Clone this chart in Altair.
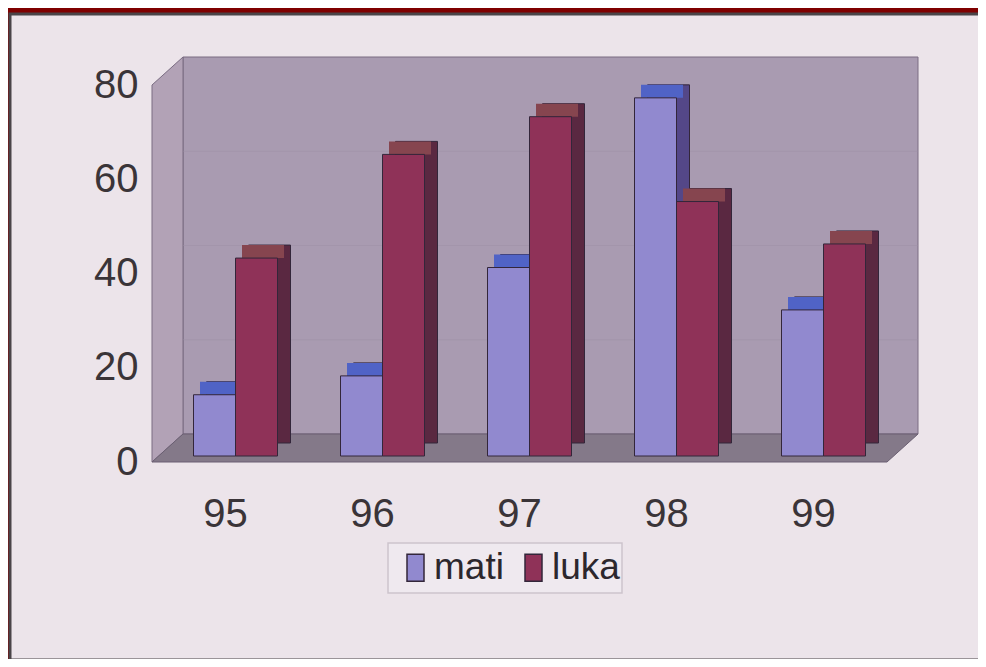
import altair as alt
import pandas as pd

# ---- data ----
years = ["95", "96", "97", "98", "99"]
mati = [13, 17, 40, 76, 31]
luka = [42, 64, 72, 54, 45]
series_names = ["mati", "luka"]
y_ticks = [0, 20, 40, 60, 80]
grid_ticks = [20, 40, 60]

df = pd.DataFrame({
    "year": years * 2,
    "series": ["mati"] * len(years) + ["luka"] * len(years),
    "value": mati + luka,
})
grid_df = pd.DataFrame({"v": grid_ticks})
one_df = pd.DataFrame({"k": [0]})

# ---- layout / style ----
W, H = 735, 377
BW = 42            # bar front width
BX, BY = 10, -6    # bars sit a bit behind the front plane
DX, DY = 13, -13   # bar depth
WX, WY = 31, -28   # wall depth
FONT = "Liberation Sans"
TXT = "#3a3438"

front_col = {"mati": "#9189cf", "luka": "#8f3258"}
side_col = {"mati": "#544788", "luka": "#5a2841"}
top_col = {"mati": "#5063c6", "luka": "#86454f"}
EDGE = "#33263a"

x_enc = alt.X("year:N", sort=years,
              scale=alt.Scale(paddingInner=0, paddingOuter=0),
              axis=alt.Axis(title=None, domain=False, ticks=False, grid=False,
                            labelAngle=0, labelFont=FONT, labelFontSize=40,
                            labelColor=TXT, labelPadding=32, zindex=2))
y_scale = alt.Scale(domain=[0, 80], nice=False, zero=True)
y_axis = alt.Axis(title=None, domain=False, ticks=False, grid=False,
                  values=y_ticks, labelFont=FONT, labelFontSize=40,
                  labelColor=TXT, labelPadding=14, labelBaseline="middle", zindex=2)


def feature(pts):
    return {"type": "Feature", "properties": {},
            "geometry": {"type": "Polygon", "coordinates": [pts + [pts[0]]]}}


proj = dict(type="identity", scale=1, translate=[0, 0])

back_wall = feature([[WX, WY], [W + WX, WY], [W + WX, H + WY], [WX, H + WY]])
left_wall = feature([[0, 0], [WX, WY], [WX, H + WY], [0, H]])
floor = feature([[0, H], [WX, H + WY], [W + WX, H + WY], [W, H]])

panel = alt.Chart(one_df).mark_rect(fill="#ece4ea", stroke="#4a4448", strokeWidth=3,
                                    clip=False).encode(
    x=alt.value(-142), x2=alt.value(860), y=alt.value(-71), y2=alt.value(575))

legend_box = alt.Chart(one_df).mark_rect(fill="#efe9ef", stroke="#cdc4cd", strokeWidth=1.5,
                                         clip=False).encode(
    x=alt.value(236), x2=alt.value(470), y=alt.value(458), y2=alt.value(508))

walls = [
    alt.Chart(alt.Data(values=[back_wall])).mark_geoshape(
        fill="#a99bb1", stroke="#7a6c82", strokeWidth=1, clip=False).project(**proj),
    alt.Chart(alt.Data(values=[left_wall])).mark_geoshape(
        fill="#b2a2b6", stroke="#7a6c82", strokeWidth=1, clip=False).project(**proj),
    alt.Chart(alt.Data(values=[floor])).mark_geoshape(
        fill="#847989", stroke="#6a5f72", strokeWidth=1, clip=False).project(**proj),
]

grid = alt.Chart(grid_df).mark_rule(color="#9b8da4", strokeWidth=1, opacity=0.45,
                                     yOffset=WY).encode(
    y=alt.Y("v:Q", scale=y_scale, axis=y_axis),
    x=alt.value(WX), x2=alt.value(W + WX))

bars = []
for s, sx in (("mati", -BW / 2), ("luka", BW / 2)):
    base = alt.Chart(df).transform_filter(alt.datum.series == s)
    side = base.mark_bar(width=BW, xOffset=sx + BX + DX, yOffset=BY + DY, y2Offset=BY + DY,
                         color=side_col[s], stroke=EDGE, strokeWidth=1).encode(
        x=x_enc, y=alt.Y("value:Q", scale=y_scale, axis=y_axis), y2=alt.datum(0))
    top = base.mark_bar(width=BW, xOffset=sx + BX + DX / 2, yOffset=BY + DY, y2Offset=BY,
                        color=top_col[s], strokeWidth=0).encode(
        x=x_enc, y=alt.Y("value:Q", scale=y_scale, axis=y_axis), y2="value:Q")
    front = base.mark_bar(width=BW, xOffset=sx + BX, yOffset=BY, y2Offset=BY,
                          stroke=EDGE, strokeWidth=1).encode(
        x=x_enc, y=alt.Y("value:Q", scale=y_scale, axis=y_axis), y2=alt.datum(0),
        color=alt.Color("series:N",
                        scale=alt.Scale(domain=series_names,
                                        range=[front_col[n] for n in series_names]),
                        legend=alt.Legend(title=None, orient="none", legendX=245, legendY=464,
                                          direction="horizontal", padding=0,
                                          labelFont=FONT, labelFontSize=37,
                                          labelColor="#2c272d", labelOffset=0,
                                          symbolType="M-1,-1.6H1V1.6H-1Z",
                                          symbolSize=289, symbolStrokeColor=EDGE,
                                          symbolStrokeWidth=1.5, symbolOpacity=1,
                                          columnPadding=11)))
    bars += [side, top, front]

chart = alt.layer(panel, legend_box, *walls, grid, *bars).properties(
    width=W, height=H,
    padding={"left": 144, "top": 77, "right": 91, "bottom": 197},
    autosize=alt.AutoSizeParams(type="none"),
    background="#7f0000",
).configure_view(stroke=None)

chart.save("out.html", embed_options={"renderer": "svg", "actions": False})
